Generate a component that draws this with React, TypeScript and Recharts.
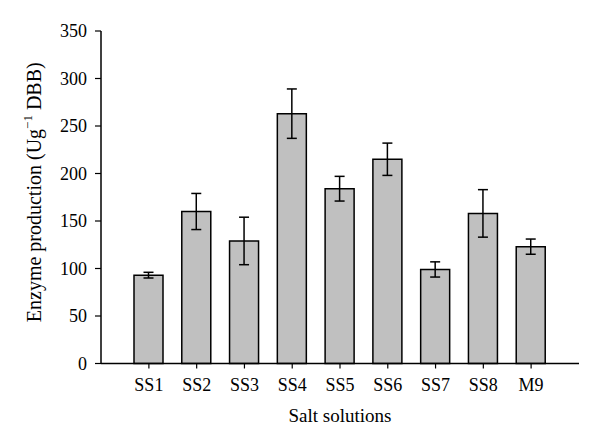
import React from 'react';
import { BarChart, Bar, XAxis, YAxis, ErrorBar, Label } from 'recharts';

const categories = ['SS1', 'SS2', 'SS3', 'SS4', 'SS5', 'SS6', 'SS7', 'SS8', 'M9'];
const production = [93, 160, 129, 263, 184, 215, 99, 158, 123];
const errors = [3, 19, 25, 26, 13, 17, 8, 25, 8];
const yTicks = [0, 50, 100, 150, 200, 250, 300, 350];

const data = categories.map((name, i) => ({ name, value: production[i], err: errors[i] }));

const FONT = '"Liberation Serif", "Times New Roman", serif';

const YTitle = (props: any) => {
  const vb = props.viewBox || { x: 0, y: 0, width: 0, height: 0 };
  const cx = vb.x + 34;
  const cy = vb.y + vb.height / 2 - 5;
  return (
    <text
      x={cx}
      y={cy}
      transform={`rotate(-90 ${cx} ${cy})`}
      textAnchor="middle"
      dominantBaseline="central"
      fontFamily={FONT}
      fontSize={20}
      fill="#000"
    >
      Enzyme production (Ug
      <tspan dy={-7} fontSize={13}>−1</tspan>
      <tspan dy={7}> DBB)</tspan>
    </text>
  );
};

export default function App() {
  return (
    <div style={{ position: 'absolute', left: 0, top: 0, width: 600, height: 445, background: '#fff' }}>
      <BarChart
        width={600}
        height={445}
        data={data}
        margin={{ top: 31, right: 21, left: 0, bottom: 21.5 }}
        barCategoryGap={0}
      >
        <XAxis
          dataKey="name"
          height={60}
          padding={{ left: 24, right: 24 }}
          tickSize={5}
          tickMargin={10}
          axisLine={{ stroke: '#000', strokeWidth: 1.5 }}
          tickLine={{ stroke: '#000', strokeWidth: 1.2 }}
          tick={{ fill: '#000', fontFamily: FONT, fontSize: 18 }}
        >
          <Label
            value="Salt solutions"
            position="insideBottom"
            offset={2}
            style={{ fill: '#000', fontFamily: FONT, fontSize: 19 }}
          />
        </XAxis>
        <XAxis
          xAxisId="top"
          dataKey="name"
          orientation="top"
          height={0}
          tick={false}
          tickLine={false}
          axisLine={{ stroke: '#000', strokeWidth: 1.5 }}
        />
        <YAxis
          width={101}
          domain={[0, 350]}
          ticks={yTicks}
          tickSize={6}
          tickMargin={8}
          axisLine={{ stroke: '#000', strokeWidth: 1.5 }}
          tickLine={{ stroke: '#000', strokeWidth: 1.2 }}
          tick={{ fill: '#000', fontFamily: FONT, fontSize: 18 }}
          label={<YTitle />}
        />
        <YAxis
          yAxisId="right"
          orientation="right"
          width={0}
          domain={[0, 350]}
          tick={false}
          tickLine={false}
          axisLine={{ stroke: '#000', strokeWidth: 1.5 }}
        />
        <Bar
          dataKey="value"
          barSize={29}
          fill="#c0c0c0"
          stroke="#000"
          strokeWidth={1.5}
          isAnimationActive={false}
        >
          <ErrorBar dataKey="err" width={5} stroke="#000" strokeWidth={1.5} direction="y" />
        </Bar>
      </BarChart>
    </div>
  );
}
